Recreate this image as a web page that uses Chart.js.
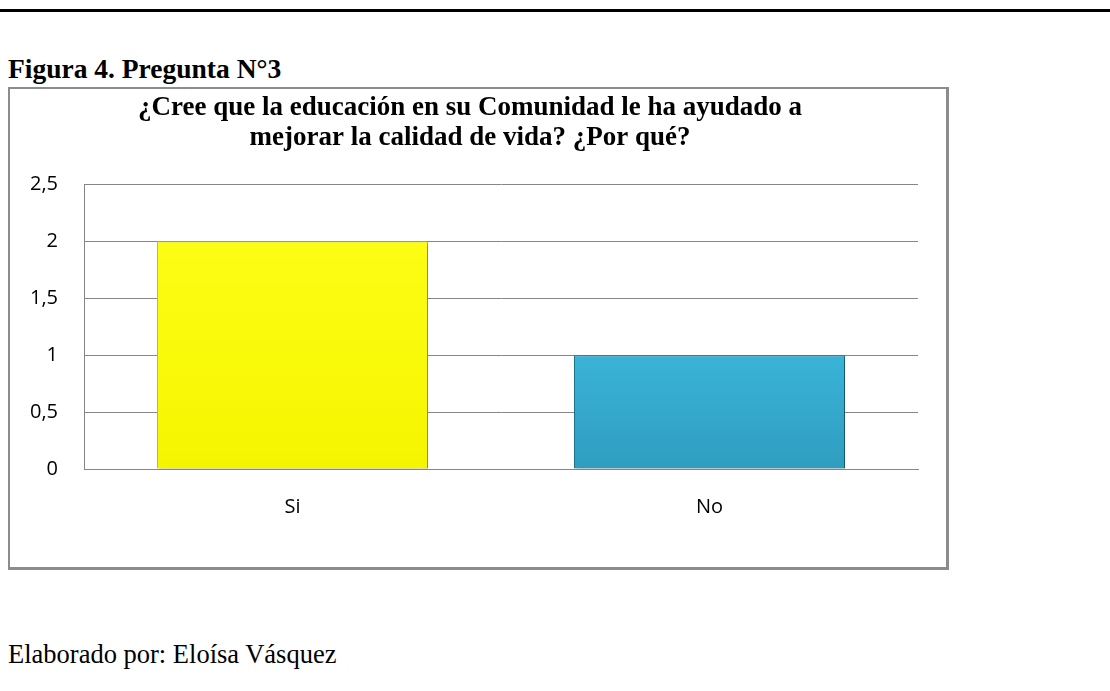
<!DOCTYPE html>
<html>
<head>
<meta charset="utf-8">
<script src="https://cdn.jsdelivr.net/npm/chart.js@4"></script>
<style>
  body { margin: 0; background: #fff; width: 1110px; height: 691px; position: relative; overflow: hidden; }
  .rule { position: absolute; left: 0; top: 9px; width: 1110px; height: 3px; background: #000; }
  .heading { position: absolute; left: 8px; top: 53px; font: bold 27.5px 'Liberation Serif', serif; color: #000; }
  .box { position: absolute; left: 8px; top: 87px; width: 936px; height: 478px; border: 2px solid #8c8c8c; border-right-width: 3px; border-bottom-width: 3px; }
  .footer { position: absolute; left: 8px; top: 639px; font: 26.5px 'Liberation Serif', serif; color: #000; }
</style>
</head>
<body>
<div class="rule"></div>
<div class="heading">Figura 4. Pregunta N°3</div>
<div class="box"><canvas id="chart"></canvas></div>
<div class="footer">Elaborado por: Eloísa Vásquez</div>
<script>
// Data
const categories = ['Si', 'No'];
const respuestas = [2, 1];
const titleLines = ['¿Cree que la educación en su Comunidad le ha ayudado a', 'mejorar la calidad de vida? ¿Por qué?'];

const GRID = '#868686';

function barFill(context) {
  const chart = context.chart;
  const area = chart.chartArea;
  if (!area) return '#ffff00';
  const g = chart.ctx.createLinearGradient(0, area.top, 0, area.bottom);
  if (context.dataIndex === 0) {
    g.addColorStop(0, '#ffff1a');
    g.addColorStop(1, '#f5f500');
  } else {
    g.addColorStop(0, '#48c8ea');
    g.addColorStop(0.5, '#3cb9dd');
    g.addColorStop(1, '#2f9dc0');
  }
  return g;
}

// soft drop shadow under the bars
const barShadow = {
  id: 'barShadow',
  beforeDatasetsDraw(chart) {
    const ctx = chart.ctx;
    ctx.save();
    ctx.shadowColor = 'rgba(0,0,0,0.35)';
    ctx.shadowBlur = 4;
    ctx.shadowOffsetX = 2;
    ctx.shadowOffsetY = 2;
  },
  afterDatasetsDraw(chart) {
    chart.ctx.restore();
  },
};

new Chart(document.getElementById('chart'), {
  type: 'bar',
  data: {
    labels: categories,
    datasets: [{
      data: respuestas,
      backgroundColor: barFill,
      borderColor: ['#c9c900', '#1f7590'],
      borderWidth: 1,
      barPercentage: 0.65,
      categoryPercentage: 1,
    }],
  },
  plugins: [barShadow],
  options: {
    responsive: true,
    maintainAspectRatio: false,
    animation: false,
    layout: { padding: { left: 12, right: 28, top: 4, bottom: 30 } },
    plugins: {
      legend: { display: false },
      tooltip: { enabled: false },
      title: {
        display: true,
        text: titleLines,
        color: '#000',
        font: { family: 'Liberation Serif', size: 27, weight: 'bold', lineHeight: 1.1 },
        padding: { top: 0, bottom: 32 },
      },
    },
    scales: {
      x: {
        grid: { display: false },
        border: { display: true, color: GRID },
        ticks: { color: '#000', font: { family: 'Open Sans', size: 20 }, padding: 18 },
      },
      y: {
        min: 0,
        max: 2.5,
        afterFit: s => { s.width = 62; },
        grid: { color: GRID, drawTicks: false },
        border: { display: true, color: GRID },
        ticks: {
          stepSize: 0.5,
          color: '#000',
          padding: 26,
          font: { family: 'Open Sans', size: 20 },
          callback: v => String(v).replace('.', ','),
        },
      },
    },
  },
});
</script>
</body>
</html>
